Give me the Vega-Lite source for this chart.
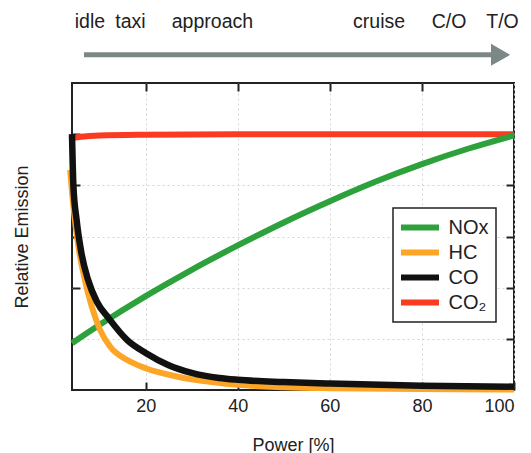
{
  "$schema": "https://vega.github.io/schema/vega-lite/v6.json",
  "autosize": "none",
  "width": 442,
  "height": 307,
  "padding": {"left": 72, "top": 83, "right": 17, "bottom": 63},
  "background": "white",
  "config": {
    "font": "Liberation Sans",
    "view": {"stroke": "#222222", "strokeWidth": 2},
    "axis": {
      "labelFont": "Liberation Sans",
      "titleFont": "Liberation Sans",
      "labelColor": "#222222",
      "titleColor": "#222222",
      "titleFontWeight": "normal",
      "labelFontSize": 18,
      "titleFontSize": 18,
      "tickColor": "#222222",
      "tickWidth": 2,
      "tickSize": -8,
      "domain": false,
      "gridColor": "#d4d4d4",
      "gridDash": [2, 3],
      "gridWidth": 1
    },
    "legend": {
      "labelFont": "Liberation Sans",
      "labelColor": "#222222"
    }
  },
  "datasets": {
    "emissions": [
      {"power": 4, "value": 0.985, "species": "CO₂"},
      {"power": 6, "value": 0.99, "species": "CO₂"},
      {"power": 10, "value": 0.995, "species": "CO₂"},
      {"power": 20, "value": 0.998, "species": "CO₂"},
      {"power": 40, "value": 1.0, "species": "CO₂"},
      {"power": 70, "value": 1.0, "species": "CO₂"},
      {"power": 100, "value": 1.0, "species": "CO₂"},

      {"power": 4, "value": 0.183, "species": "NOx"},
      {"power": 10, "value": 0.255, "species": "NOx"},
      {"power": 20, "value": 0.367, "species": "NOx"},
      {"power": 30, "value": 0.47, "species": "NOx"},
      {"power": 40, "value": 0.565, "species": "NOx"},
      {"power": 50, "value": 0.655, "species": "NOx"},
      {"power": 60, "value": 0.738, "species": "NOx"},
      {"power": 70, "value": 0.815, "species": "NOx"},
      {"power": 80, "value": 0.883, "species": "NOx"},
      {"power": 90, "value": 0.943, "species": "NOx"},
      {"power": 100, "value": 0.995, "species": "NOx"},

      {"power": 3.6, "value": 0.86, "species": "HC"},
      {"power": 4.3, "value": 0.717, "species": "HC"},
      {"power": 5.4, "value": 0.56, "species": "HC"},
      {"power": 6.8, "value": 0.43, "species": "HC"},
      {"power": 8.3, "value": 0.326, "species": "HC"},
      {"power": 10.1, "value": 0.235, "species": "HC"},
      {"power": 12.3, "value": 0.169, "species": "HC"},
      {"power": 16, "value": 0.117, "species": "HC"},
      {"power": 20, "value": 0.085, "species": "HC"},
      {"power": 27, "value": 0.052, "species": "HC"},
      {"power": 34, "value": 0.032, "species": "HC"},
      {"power": 40, "value": 0.02, "species": "HC"},
      {"power": 50, "value": 0.011, "species": "HC"},
      {"power": 60, "value": 0.007, "species": "HC"},
      {"power": 80, "value": 0.004, "species": "HC"},
      {"power": 100, "value": 0.002, "species": "HC"},

      {"power": 4, "value": 1.0, "species": "CO"},
      {"power": 4.3, "value": 0.8, "species": "CO"},
      {"power": 5, "value": 0.665, "species": "CO"},
      {"power": 6, "value": 0.54, "species": "CO"},
      {"power": 7.5, "value": 0.43, "species": "CO"},
      {"power": 9.4, "value": 0.345, "species": "CO"},
      {"power": 12, "value": 0.28, "species": "CO"},
      {"power": 16, "value": 0.195, "species": "CO"},
      {"power": 20, "value": 0.145, "species": "CO"},
      {"power": 25, "value": 0.097, "species": "CO"},
      {"power": 30, "value": 0.067, "species": "CO"},
      {"power": 36, "value": 0.047, "species": "CO"},
      {"power": 40, "value": 0.04, "species": "CO"},
      {"power": 50, "value": 0.031, "species": "CO"},
      {"power": 60, "value": 0.025, "species": "CO"},
      {"power": 80, "value": 0.017, "species": "CO"},
      {"power": 100, "value": 0.013, "species": "CO"}
    ],
    "phases": [
      {"power": 7.9, "label": "idle"},
      {"power": 16.7, "label": "taxi"},
      {"power": 34.5, "label": "approach"},
      {"power": 70.7, "label": "cruise"},
      {"power": 85.9, "label": "C/O"},
      {"power": 97.5, "label": "T/O"}
    ],
    "arrow": [
      {"start": 6.6, "end": 95.2, "head": 97.07, "level": 1.31}
    ]
  },
  "layer": [
    {
      "data": {"name": "emissions"},
      "transform": [{"filter": "datum.species === 'CO₂'"}],
      "mark": {"type": "line", "strokeWidth": 6, "interpolate": "monotone"},
      "encoding": {
        "x": {
          "field": "power", "type": "quantitative",
          "scale": {"domain": [4, 100], "nice": false, "zero": false},
          "axis": {"orient": "bottom", "values": [20, 40, 60, 80, 100], "title": "Power [%]", "grid": true, "labelPadding": 15, "titlePadding": 21}
        },
        "y": {
          "field": "value", "type": "quantitative",
          "scale": {"domain": [0, 1.2], "nice": false, "zero": false},
          "axis": {"orient": "left", "values": [0.2, 0.4, 0.6, 0.8, 1.0], "labels": false, "grid": true, "title": "Relative Emission", "titlePadding": 40}
        },
        "color": {
          "field": "species", "type": "nominal",
          "scale": {"domain": ["NOx", "HC", "CO", "CO₂"], "range": ["#2ca13c", "#fca526", "#111111", "#fb3a22"]},
          "legend": {
            "title": null,
            "orient": "none",
            "legendX": 321,
            "legendY": 125,
            "fillColor": "white",
            "strokeColor": "#222222",
            "padding": 7,
            "symbolType": "M-2,0H2",
            "symbolSize": 361,
            "symbolStrokeWidth": 6,
            "symbolOffset": 7.5,
            "labelFontSize": 20,
            "labelOffset": 16,
            "rowPadding": -4,
            "encode": {"legend": {"update": {"strokeWidth": {"value": 1.5}}}}
          }
        }
      }
    },
    {
      "data": {"name": "emissions"},
      "transform": [{"filter": "datum.species === 'NOx'"}],
      "mark": {"type": "line", "strokeWidth": 6, "interpolate": "monotone"},
      "encoding": {
        "x": {"field": "power", "type": "quantitative",
          "axis": {"orient": "top", "values": [20, 40, 60, 80], "labels": false, "grid": false, "title": null}},
        "y": {"field": "value", "type": "quantitative",
          "axis": {"orient": "right", "values": [0.2, 0.4, 0.6, 0.8, 1.0], "labels": false, "grid": false, "title": null}},
        "color": {"field": "species", "type": "nominal"}
      }
    },
    {
      "data": {"name": "emissions"},
      "transform": [{"filter": "datum.species === 'HC'"}],
      "mark": {"type": "line", "strokeWidth": 6, "interpolate": "monotone"},
      "encoding": {
        "x": {"field": "power", "type": "quantitative", "axis": null},
        "y": {"field": "value", "type": "quantitative", "axis": null},
        "color": {"field": "species", "type": "nominal"}
      }
    },
    {
      "data": {"name": "emissions"},
      "transform": [{"filter": "datum.species === 'CO'"}],
      "mark": {"type": "line", "strokeWidth": 6.5, "interpolate": "monotone"},
      "encoding": {
        "x": {"field": "power", "type": "quantitative", "axis": null},
        "y": {"field": "value", "type": "quantitative", "axis": null},
        "color": {"field": "species", "type": "nominal"}
      }
    },
    {
      "data": {"name": "arrow"},
      "mark": {"type": "rule", "color": "#7c8886", "strokeWidth": 5},
      "encoding": {
        "x": {"field": "start", "type": "quantitative", "axis": null},
        "x2": {"field": "end"},
        "y": {"field": "level", "type": "quantitative", "axis": null}
      }
    },
    {
      "data": {"name": "arrow"},
      "mark": {"type": "point", "shape": "triangle-right", "size": 484, "filled": true, "color": "#7c8886", "opacity": 1},
      "encoding": {
        "x": {"field": "head", "type": "quantitative", "axis": null},
        "y": {"field": "level", "type": "quantitative", "axis": null}
      }
    },
    {
      "data": {"name": "phases"},
      "mark": {"type": "text", "fontSize": 19.5, "color": "#222222", "align": "center", "baseline": "alphabetic", "font": "Liberation Sans"},
      "encoding": {
        "x": {"field": "power", "type": "quantitative", "axis": null},
        "y": {"datum": 1.415, "type": "quantitative", "axis": null},
        "text": {"field": "label"}
      }
    }
  ]
}
